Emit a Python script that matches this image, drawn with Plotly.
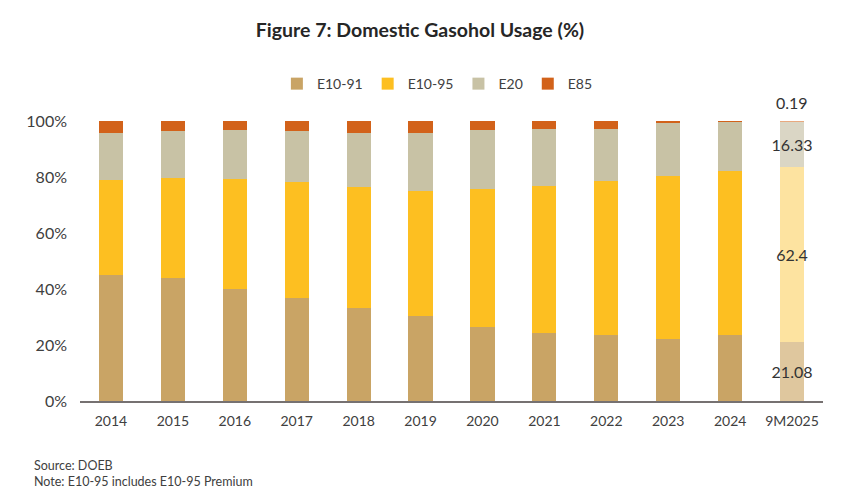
import plotly.graph_objects as go

categories = ["2014", "2015", "2016", "2017", "2018", "2019", "2020", "2021", "2022", "2023", "2024", "9M2025"]
e10_91 = [45.0, 43.9, 40.1, 36.9, 33.2, 30.4, 26.5, 24.3, 23.6, 22.3, 23.6, 21.08]
e10_95 = [34.0, 35.9, 39.3, 41.4, 43.3, 44.5, 49.3, 52.5, 55.0, 58.2, 58.5, 62.4]
e20 = [16.8, 16.7, 17.4, 18.0, 19.3, 20.9, 21.1, 20.3, 18.5, 18.9, 17.6, 16.33]
e85 = [4.2, 3.5, 3.2, 3.7, 4.2, 4.2, 3.1, 2.9, 2.9, 0.6, 0.3, 0.19]
y_ticks = [0, 20, 40, 60, 80, 100]
y_tick_labels = ["0%", "20%", "40%", "60%", "80%", "100%"]

series = [
    ("E10-91", e10_91, "#C9A465", "#DFC79E"),
    ("E10-95", e10_95, "#FDBF21", "#FDE3A0"),
    ("E20", e20, "#C8C2A5", "#DAD6C5"),
    ("E85", e85, "#D2621A", "#E8A97F"),
]

FONT = "Lato, 'Open Sans', sans-serif"
W, H = 847, 491

fig = go.Figure()
n = len(categories)
for name, vals, col, faded in series:
    colors = [col] * (n - 1) + [faded]
    is_top = name == "E85"
    texts = [""] * n if is_top else [""] * (n - 1) + [f"{vals[-1]:g}"]
    fig.add_trace(go.Bar(
        name=name,
        x=categories,
        y=vals,
        marker=dict(color=colors, line=dict(width=0)),
        text=texts,
        textposition="inside",
        insidetextanchor="middle",
        textangle=0,
        constraintext="none",
        cliponaxis=False,
        textfont=dict(family=FONT, size=16, color="#333333"),
        hoverinfo="x+y+name",
    ))

last_total = e10_91[-1] + e10_95[-1] + e20[-1] + e85[-1]
fig.add_annotation(
    x=categories[-1], y=last_total, text=f"{e85[-1]:g}", showarrow=False,
    yanchor="bottom", yshift=7, font=dict(family=FONT, size=16, color="#333333"),
)

fig.update_layout(
    barmode="stack",
    bargap=0.61,
    width=W,
    height=H,
    paper_bgcolor="white",
    plot_bgcolor="white",
    margin=dict(l=72, r=32, t=113, b=98),
    font=dict(family=FONT, color="#404040"),
    title=dict(
        text="<b>Figure 7: Domestic Gasohol Usage (%)</b>",
        xref="container", x=412 / W, xanchor="center",
        yref="container", y=1 - 22 / H, yanchor="middle",
        font=dict(size=19.5, color="#262626", family=FONT),
    ),
    legend=dict(
        orientation="h", x=0.481, xanchor="center", y=1.132, yanchor="middle",
        font=dict(size=14, color="#404040"), traceorder="normal",
        itemwidth=30,
    ),
    showlegend=True,
)
fig.update_xaxes(
    showline=True, linecolor="#767171", linewidth=1.5,
    ticks="", tickfont=dict(size=14, color="#404040"),
    showgrid=False, ticklabelstandoff=6,
)
fig.update_yaxes(
    range=[0, 100], tickvals=y_ticks, ticktext=y_tick_labels,
    showgrid=False, showline=False, zeroline=False,
    tickfont=dict(size=16, color="#404040"), ticklabelstandoff=12,
)
fig.add_annotation(
    text="Source: DOEB<br>Note: E10-95 includes E10-95 Premium",
    xref="paper", yref="paper", x=(24 - 72) / 743, y=-0.195, xanchor="left", yanchor="top",
    showarrow=False, align="left", font=dict(size=12.5, color="#404040", family=FONT),
)
fig.write_html("out.html")
